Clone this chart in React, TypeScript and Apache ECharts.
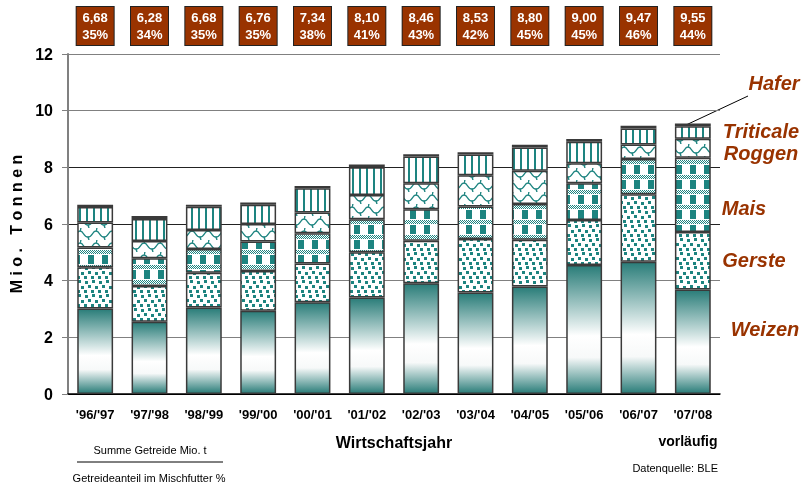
import React, { useEffect, useRef } from 'react';
import * as echarts from 'echarts';

const categories = ["'96/'97", "'97/'98", "'98/'99", "'99/'00", "'00/'01", "'01/'02", "'02/'03", "'03/'04", "'04/'05", "'05/'06", "'06/'07", "'07/'08"];
const weizen = [3.02, 2.55, 3.05, 2.94, 3.24, 3.41, 3.91, 3.58, 3.79, 4.55, 4.67, 3.69];
const gerste = [1.45, 1.26, 1.23, 1.40, 1.37, 1.59, 1.50, 1.89, 1.65, 1.59, 2.38, 2.03];
const mais = [0.70, 0.98, 0.84, 1.04, 1.06, 1.17, 1.11, 1.15, 1.27, 1.30, 1.24, 2.62];
const roggen = [0.88, 0.61, 0.67, 0.62, 0.74, 0.85, 0.92, 1.10, 1.17, 0.70, 0.52, 0.67];
const triticale = [0.55, 0.78, 0.82, 0.68, 0.85, 0.98, 0.94, 0.73, 0.82, 0.76, 0.56, 0.44];
const hafer = [0.08, 0.10, 0.07, 0.08, 0.08, 0.10, 0.08, 0.08, 0.10, 0.10, 0.10, 0.10];
const sums = [6.68, 6.28, 6.68, 6.76, 7.34, 8.10, 8.46, 8.53, 8.80, 9.00, 9.47, 9.55];
const shares = [35, 34, 35, 35, 38, 41, 43, 42, 45, 45, 46, 44];
const yTicks = [0, 2, 4, 6, 8, 10, 12];

const TEAL = '#1d8480';
const BROWN = '#993300';
const FONT = "'Liberation Sans', Arial, sans-serif";

function tile(w: number, h: number, draw: (ctx: CanvasRenderingContext2D) => void) {
  const c = document.createElement('canvas');
  c.width = w;
  c.height = h;
  const ctx = c.getContext('2d')!;
  ctx.fillStyle = '#ffffff';
  ctx.fillRect(0, 0, w, h);
  draw(ctx);
  return { image: c.toDataURL(), repeat: 'repeat', imageWidth: w, imageHeight: h } as any;
}

export default function App() {
  const ref = useRef<HTMLDivElement>(null);
  useEffect(() => {
    if (!ref.current) return;
    const chart = echarts.init(ref.current, undefined, { renderer: 'svg' });

    const dots = tile(14, 14, (ctx) => {
      ctx.fillStyle = TEAL;
      const pts = [[1, 1], [8, 0], [4, 5], [11, 6], [0, 10], [7, 10]];
      pts.forEach(([x, y]) => ctx.fillRect(x, y, 3, 3));
    });
    const check = tile(14, 15, (ctx) => {
      ctx.fillStyle = TEAL;
      ctx.fillRect(4, 0, 6, 9);
      for (let y = 10; y < 14; y++) {
        for (let x = 0; x < 14; x++) {
          if ((x + y) % 2 === 0) ctx.fillRect(x, y, 1, 1);
        }
      }
    });
    const waves = tile(16, 12, (ctx) => {
      ctx.strokeStyle = TEAL;
      ctx.lineWidth = 1.4;
      ctx.beginPath();
      ctx.moveTo(0, 3);
      ctx.bezierCurveTo(4, 3, 3, 9, 8, 9);
      ctx.bezierCurveTo(13, 9, 12, 3, 16, 3);
      ctx.stroke();
      ctx.beginPath();
      ctx.moveTo(8, 9);
      ctx.lineTo(9, 12);
      ctx.moveTo(1, 0);
      ctx.lineTo(0, 3);
      ctx.stroke();
    });
    const stripes = tile(7, 4, (ctx) => {
      ctx.fillStyle = TEAL;
      ctx.fillRect(2, 0, 2, 4);
    });
    const grad = new echarts.graphic.LinearGradient(0, 0, 0, 1, [
      { offset: 0, color: '#2a7d79' },
      { offset: 0.55, color: '#ffffff' },
      { offset: 0.72, color: '#f7f9f9' },
      { offset: 1, color: '#2a7d79' },
    ]);

    const seg = (name: string, data: number[], color: any) => ({
      name,
      type: 'bar',
      stack: 'total',
      data,
      barWidth: '66%',
      itemStyle: { color, borderColor: '#3a3a3a', borderWidth: 1.5 },
    });

    const label = (text: string, x: number, y: number) => ({
      type: 'text',
      x,
      y,
      style: {
        text,
        fill: BROWN,
        font: `italic bold 20px ${FONT}`,
        fontSize: 20,
        fontWeight: 'bold',
        fontStyle: 'italic',
        fontFamily: FONT,
        align: 'center',
        verticalAlign: 'middle',
        textAlign: 'center',
        textVerticalAlign: 'middle',
      },
    });
    const txt = (text: string, x: number, y: number, size: number, bold: boolean, align = 'center') => ({
      type: 'text',
      x,
      y,
      style: {
        text,
        fill: '#000',
        font: `${bold ? 'bold ' : ''}${size}px ${FONT}`,
        fontSize: size,
        fontWeight: bold ? 'bold' : 'normal',
        fontFamily: FONT,
        align,
        verticalAlign: 'middle',
        textAlign: align,
        textVerticalAlign: 'middle',
      },
    });

    chart.setOption({
      animation: false,
      textStyle: { fontFamily: FONT },
      grid: { left: 68, right: 83, top: 54, bottom: 90 },
      xAxis: [
        {
          type: 'category',
          data: categories,
          position: 'bottom',
          name: 'Wirtschaftsjahr',
          nameLocation: 'middle',
          nameGap: 40,
          nameTextStyle: { fontSize: 16, fontWeight: 'bold', color: '#000', fontFamily: FONT },
          axisLine: { lineStyle: { color: '#000', width: 1.5 } },
          axisTick: { show: false },
          axisLabel: { interval: 0, margin: 14, fontSize: 13, fontWeight: 'bold', color: '#000', fontFamily: FONT },
        },
        {
          type: 'category',
          data: categories,
          position: 'top',
          axisLine: { show: false },
          axisTick: { show: false },
          axisLabel: {
            interval: 0,
            margin: 9,
            formatter: (_v: string, i: number) => `${sums[i].toFixed(2).replace('.', ',')}\n${shares[i]}%`,
            color: '#fff',
            fontWeight: 'bold',
            fontSize: 13,
            lineHeight: 17,
            fontFamily: FONT,
            backgroundColor: BROWN,
            borderColor: '#222',
            borderWidth: 1,
            padding: [2, 3, 2, 3],
            width: 31,
            align: 'center',
          },
        },
      ],
      yAxis: {
        type: 'value',
        min: yTicks[0],
        max: yTicks[yTicks.length - 1],
        interval: 2,
        name: 'M i o .   T o n n e n',
        nameLocation: 'middle',
        nameGap: 39,
        nameTextStyle: { fontSize: 16, fontWeight: 'bold', color: '#000', fontFamily: FONT },
        axisLine: { show: true, lineStyle: { color: '#808080', width: 2 } },
        axisTick: { show: true, length: 6, lineStyle: { color: '#808080', width: 1 } },
        axisLabel: { margin: 15, fontSize: 16, fontWeight: 'bold', color: '#000', fontFamily: FONT },
        splitLine: {
          show: true,
          lineStyle: { color: ['#000', '#808080', '#808080', '#222', '#222', '#808080', '#808080'], width: 1.2 },
        },
      },
      series: [
        seg('Weizen', weizen, grad),
        seg('Gerste', gerste, dots),
        seg('Mais', mais, check),
        seg('Roggen', roggen, waves),
        seg('Triticale', triticale, stripes),
        seg('Hafer', hafer, '#333333'),
      ],
      graphic: [
        label('Hafer', 774, 83),
        label('Triticale', 761, 131),
        label('Roggen', 761, 153),
        label('Mais', 744, 208),
        label('Gerste', 754, 260),
        label('Weizen', 765, 329),
        { type: 'line', shape: { x1: 748, y1: 96, x2: 686, y2: 125 }, style: { stroke: '#000', lineWidth: 1 } },
        txt('vorläufig', 688, 441, 14, true),
        txt('Summe Getreide Mio. t', 150, 450, 11, false),
        { type: 'line', shape: { x1: 77, y1: 462, x2: 223, y2: 462 }, style: { stroke: '#000', lineWidth: 1 } },
        txt('Getreideanteil im Mischfutter %', 149, 478, 11, false),
        txt('Datenquelle: BLE', 718, 468, 11, false, 'right'),
      ],
    });
    return () => chart.dispose();
  }, []);
  return <div ref={ref} style={{ position: 'fixed', left: 0, top: 0, width: 803, height: 484 }} />;
}
